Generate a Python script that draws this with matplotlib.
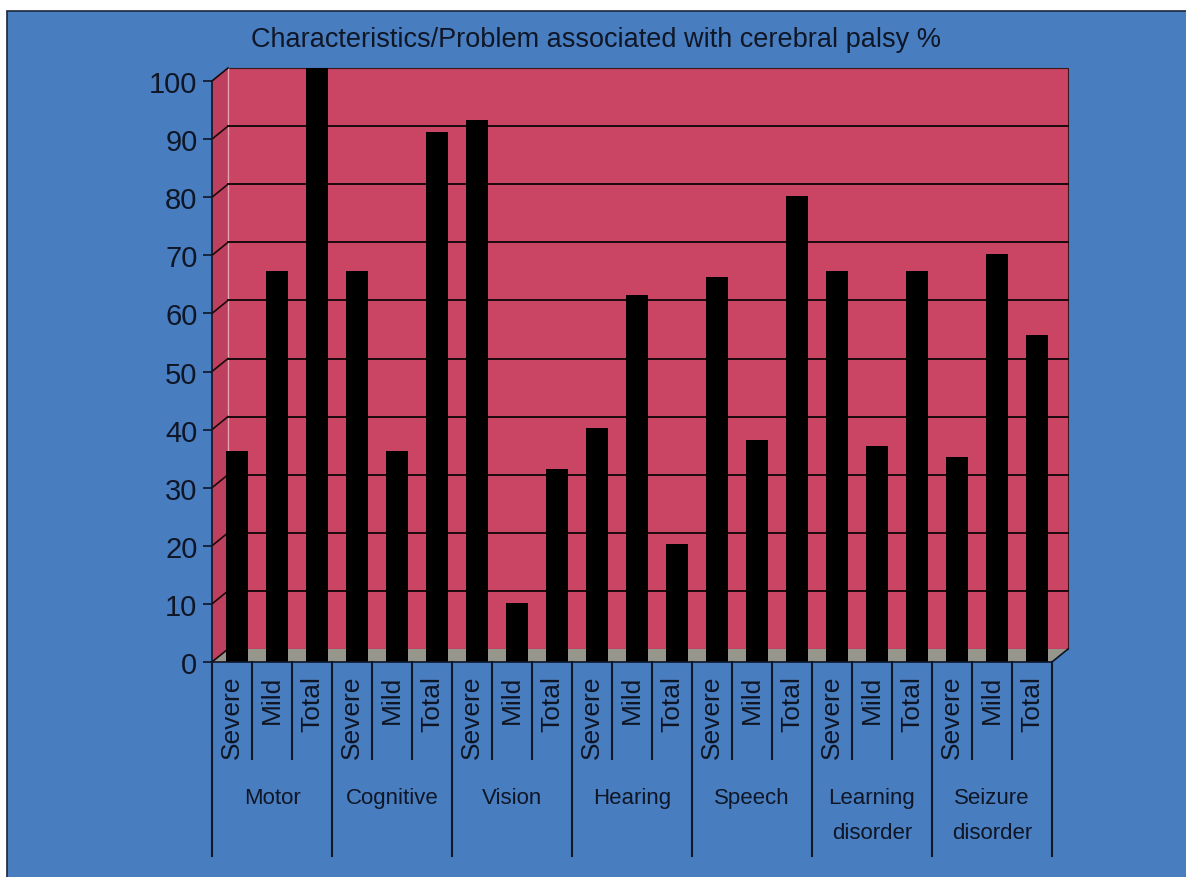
import numpy as np
import matplotlib.pyplot as plt
from matplotlib.patches import Rectangle, Polygon

plt.rcParams['font.family'] = ['Liberation Sans', 'DejaVu Sans']

# Data (percent)
groups = ['Motor', 'Cognitive', 'Vision', 'Hearing', 'Speech',
          'Learning\ndisorder', 'Seizure\ndisorder']
levels = ['Severe', 'Mild', 'Total']
severe = [34, 65, 91, 38, 64, 65, 33]
mild = [65, 34, 8, 61, 36, 35, 68]
total = [100, 89, 31, 18, 78, 65, 54]
yticks = list(range(0, 101, 10))
title = 'Characteristics/Problem associated with cerebral palsy %'

values = []
for s, m, t in zip(severe, mild, total):
    values += [s, m, t]
values = np.array(values, dtype=float)
n = len(values)

# colours
blue = '#487dc0'
pink = '#c94563'
side_pink = '#bd415e'
floor_gray = '#96968c'
ink = '#0f1626'

W, H = 1186, 878
fig = plt.figure(figsize=(W / 100, H / 100), dpi=100)
fig.patch.set_facecolor('white')
fig.patches.append(Rectangle((7 / W, -0.01), 1.0, (H - 12) / H + 0.01,
                             transform=fig.transFigure, facecolor=blue,
                             edgecolor='#1c2638', lw=1.2, zorder=-5))

# axes box = front plane of the 3D chart
ax_w, ax_h = 840, 581
ax = fig.add_axes([212 / W, (H - 663) / H, ax_w / W, ax_h / H])
ax.set_zorder(1)
ax.set_xlim(0, n)
ax.set_ylim(0, 100)
ax.patch.set_visible(False)

# depth offset of the back wall (16px right, 13px up) in data units
dx = 16 * n / ax_w
dy = 13 * 100 / ax_h

# back wall, side wall, floor
ax.add_patch(Rectangle((dx, dy), n, 100, facecolor=pink, edgecolor='#3a1820',
                       lw=0.8, zorder=0, clip_on=False))
ax.add_patch(Polygon([(0, 0), (0, 100), (dx, 100 + dy), (dx, dy)],
                     closed=True, facecolor=side_pink, edgecolor='none',
                     zorder=0.5, clip_on=False))
ax.add_patch(Polygon([(0, 0), (n, 0), (n + dx, dy), (dx, dy)], closed=True,
                     facecolor=floor_gray, edgecolor='none', zorder=0.5,
                     clip_on=False))
ax.plot([dx, dx], [dy, 100 + dy], color='#e7a3b3', lw=1, zorder=0.6, clip_on=False)

# gridlines on back wall + diagonals on side wall
for v in yticks:
    if 0 < v < 100:
        ax.plot([dx, n + dx], [v + dy, v + dy], color='#1a0a0e', lw=1.4,
                zorder=1, clip_on=False)
    ax.plot([0, dx], [v, v + dy], color='#1a0a0e', lw=1.2, zorder=1, clip_on=False)
ax.plot([n, n + dx], [0, dy], color=ink, lw=1.2, zorder=1, clip_on=False)

# bars (tops sit at the back-wall level)
xpos = np.arange(n) + 0.5 + 0.13
ax.bar(xpos, values + dy, width=0.55, color='black', zorder=3, clip_on=False)

# axes styling
for side in ['top', 'right']:
    ax.spines[side].set_visible(False)
ax.spines['left'].set_color(ink)
ax.spines['bottom'].set_color(ink)
ax.spines['left'].set_linewidth(1.2)
ax.spines['bottom'].set_linewidth(1.2)
ax.spines['left'].set_zorder(4)
ax.spines['bottom'].set_zorder(4)
ax.set_xticks([])
ax.set_yticks(yticks)
ax.tick_params(axis='y', length=6.5, width=1.2, color=ink, labelsize=21,
               labelcolor=ink, pad=4)

# multi-level category axis
xt = ax.get_xaxis_transform()
for i in range(n + 1):
    depth = -0.334 if i % 3 == 0 else -0.167
    ax.plot([i, i], [0, depth], transform=xt, color=ink, lw=1.5, clip_on=False)
for i in range(n):
    ax.text(i + 0.5, -0.022, levels[i % 3], transform=xt, rotation=90,
            ha='center', va='top', fontsize=19, color=ink)
for g, name in enumerate(groups):
    ax.text(3 * g + 1.5, -0.215, name, transform=xt, ha='center', va='top',
            fontsize=16, color=ink, linespacing=1.9)

fig.text(596 / W, 1 - 40 / H, title, ha='center', va='center',
         fontsize=19.5, color=ink)

fig.savefig('out.png', dpi=100, facecolor=fig.get_facecolor())
